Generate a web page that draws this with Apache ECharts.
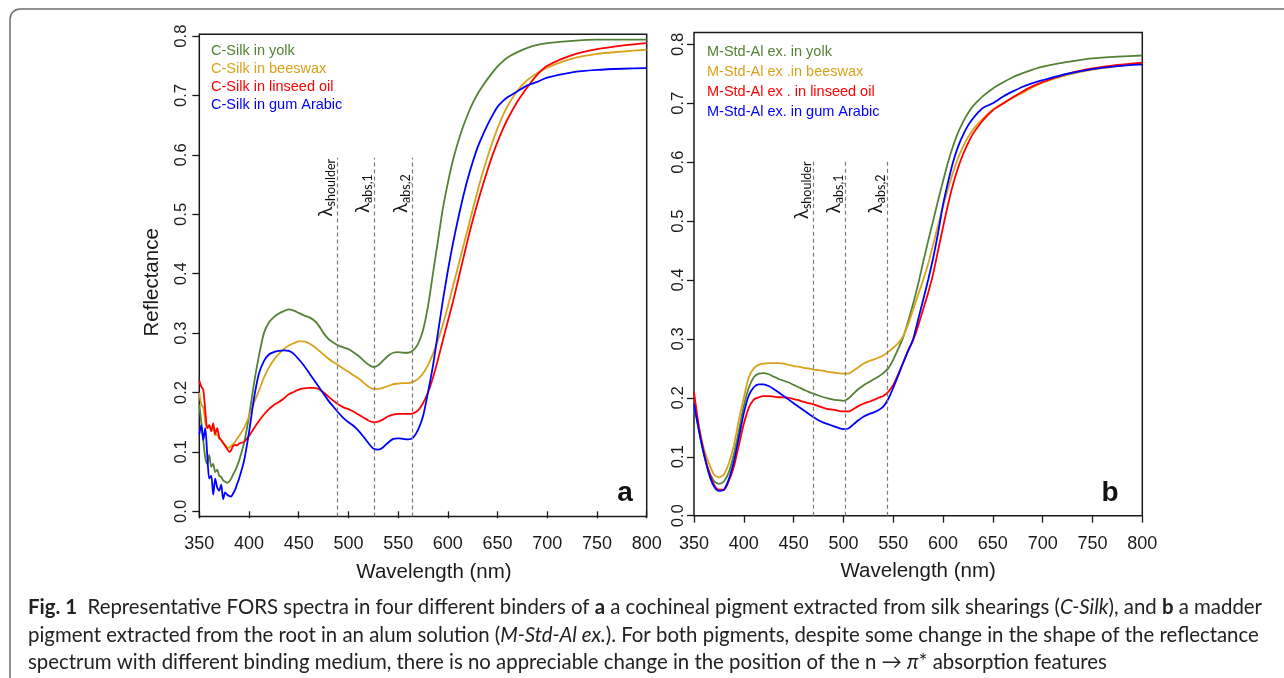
<!DOCTYPE html>
<html>
<head>
<meta charset="utf-8">
<script src="https://cdn.jsdelivr.net/npm/echarts@6/dist/echarts.min.js"></script>
<style>
  html, body { margin: 0; padding: 0; background: #ffffff; }
  #chart { width: 1284px; height: 678px; }
</style>
</head>
<body>
<div id="chart"></div>
<script>
// ---- Panel a: cochineal (C-Silk) in four binders ----
const wavelengthA = [350,352,354,356,358,360,362,364,366,368,370,372,374,376,378,380,382,384,386,388,390,
  395,400,405,410,415,420,425,430,435,440,
  445,450,455,460,465,470,475,480,485,490,
  495,500,505,510,515,520,525,530,535,540,
  545,550,555,560,565,570,575,580,585,590,
  595,600,605,610,615,620,625,630,635,640,
  645,650,655,660,
  670,680,690,700,725,750,775,800];

const silkYolk = [0.18,0.15,0.12,0.09,0.08,0.095,0.075,0.08,0.066,0.07,0.06,0.058,0.052,0.05,0.048,0.05,0.055,0.062,0.068,0.076,0.085,
  0.115,0.16,0.215,0.262,0.30,0.318,0.327,0.333,0.337,0.340,
  0.338,0.334,0.33,0.327,0.322,0.313,0.30,0.29,0.284,0.279,
  0.276,0.273,0.268,0.262,0.254,0.247,0.243,0.246,0.254,0.262,
  0.267,0.268,0.267,0.267,0.271,0.282,0.305,0.345,0.40,0.455,
  0.51,0.553,0.59,0.62,0.646,0.668,0.687,0.703,0.716,0.728,
  0.739,0.749,0.757,0.764,
  0.773,0.78,0.785,0.788,0.792,0.794,0.794,0.794];

const silkBeeswax = [0.20,0.18,0.175,0.15,0.14,0.145,0.135,0.14,0.128,0.13,0.122,0.12,0.115,0.112,0.108,0.107,0.11,0.113,0.117,0.122,0.127,
  0.14,0.16,0.183,0.203,0.225,0.242,0.255,0.265,0.273,0.279,
  0.283,0.286,0.286,0.283,0.278,0.271,0.264,0.257,0.251,0.246,
  0.24,0.235,0.229,0.224,0.217,0.21,0.206,0.206,0.208,0.211,
  0.214,0.215,0.216,0.216,0.218,0.223,0.232,0.246,0.265,0.288,
  0.315,0.345,0.378,0.41,0.443,0.475,0.508,0.54,0.57,0.597,
  0.622,0.645,0.665,0.682,
  0.708,0.726,0.738,0.747,0.762,0.77,0.774,0.777];

const silkLinseed = [0.22,0.21,0.205,0.17,0.14,0.145,0.135,0.148,0.13,0.14,0.125,0.12,0.115,0.11,0.105,0.1,0.103,0.11,0.112,0.111,0.114,
  0.117,0.127,0.14,0.152,0.163,0.172,0.179,0.184,0.19,0.197,
  0.201,0.205,0.207,0.208,0.208,0.206,0.2,0.193,0.186,0.18,
  0.175,0.172,0.168,0.163,0.158,0.153,0.15,0.151,0.155,0.16,
  0.163,0.164,0.164,0.164,0.165,0.17,0.182,0.2,0.225,0.255,
  0.288,0.32,0.352,0.387,0.422,0.457,0.49,0.52,0.548,0.575,
  0.6,0.622,0.642,0.66,
  0.69,0.714,0.735,0.75,0.768,0.778,0.784,0.788];

const silkGum = [0.13,0.145,0.12,0.14,0.095,0.055,0.06,0.028,0.055,0.04,0.035,0.045,0.02,0.032,0.028,0.026,0.025,0.03,0.036,0.046,0.055,
  0.085,0.133,0.19,0.232,0.253,0.264,0.268,0.27,0.271,0.27,
  0.265,0.256,0.246,0.234,0.222,0.21,0.198,0.186,0.176,0.166,
  0.157,0.15,0.144,0.136,0.126,0.115,0.106,0.104,0.108,0.116,
  0.122,0.123,0.122,0.121,0.124,0.137,0.16,0.2,0.245,0.3,
  0.355,0.405,0.45,0.49,0.527,0.56,0.588,0.613,0.633,0.651,
  0.667,0.681,0.69,0.697,
  0.707,0.717,0.723,0.73,0.739,0.743,0.745,0.746];

// ---- Panel b: madder (M-Std-Al ex.) in four binders ----
const wavelengthB = [350,355,360,365,370,375,380,385,390,395,
  400,405,410,415,420,425,430,435,440,445,
  450,455,460,465,470,475,480,485,490,495,
  500,505,510,515,520,525,530,535,540,545,
  550,555,560,565,570,575,580,585,590,595,
  600,605,610,615,620,625,630,635,640,
  650,660,670,680,690,700,725,750,775,800];

const madderYolk = [0.189,0.144,0.104,0.076,0.059,0.054,0.058,0.074,0.104,0.144,
  0.186,0.217,0.235,0.241,0.242,0.24,0.236,0.232,0.229,0.226,
  0.222,0.218,0.214,0.21,0.207,0.204,0.201,0.199,0.197,0.196,
  0.195,0.199,0.207,0.215,0.221,0.226,0.231,0.236,0.242,0.25,
  0.265,0.283,0.303,0.33,0.36,0.393,0.43,0.466,0.5,0.535,
  0.568,0.6,0.627,0.65,0.668,0.683,0.695,0.704,0.712,
  0.725,0.735,0.744,0.751,0.757,0.762,0.77,0.776,0.779,0.781];

const madderBeeswax = [0.19,0.15,0.113,0.089,0.07,0.065,0.07,0.089,0.119,0.162,
  0.2,0.235,0.25,0.256,0.258,0.259,0.259,0.259,0.258,0.256,
  0.254,0.253,0.251,0.25,0.248,0.247,0.246,0.244,0.243,0.242,
  0.241,0.241,0.246,0.252,0.258,0.262,0.265,0.268,0.272,0.278,
  0.285,0.293,0.305,0.325,0.35,0.375,0.4,0.427,0.46,0.493,
  0.525,0.555,0.583,0.607,0.626,0.642,0.655,0.665,0.674,
  0.689,0.7,0.709,0.718,0.727,0.735,0.748,0.757,0.763,0.768];

const madderLinseed = [0.21,0.15,0.107,0.074,0.053,0.044,0.044,0.059,0.083,0.119,
  0.156,0.183,0.197,0.201,0.203,0.203,0.202,0.201,0.201,0.2,
  0.198,0.196,0.193,0.191,0.189,0.186,0.183,0.181,0.18,0.178,
  0.177,0.177,0.181,0.186,0.19,0.193,0.196,0.2,0.203,0.21,
  0.222,0.24,0.26,0.28,0.298,0.322,0.35,0.378,0.41,0.45,
  0.49,0.528,0.562,0.59,0.613,0.632,0.648,0.66,0.671,
  0.688,0.699,0.71,0.72,0.729,0.736,0.75,0.759,0.765,0.769];

const madderGum = [0.19,0.144,0.104,0.071,0.05,0.042,0.044,0.062,0.092,0.132,
  0.174,0.204,0.218,0.223,0.223,0.22,0.215,0.209,0.203,0.197,
  0.191,0.185,0.179,0.173,0.167,0.162,0.158,0.155,0.152,0.149,
  0.147,0.148,0.155,0.162,0.168,0.172,0.175,0.179,0.185,0.198,
  0.217,0.238,0.26,0.28,0.30,0.333,0.366,0.4,0.437,0.48,
  0.528,0.566,0.6,0.626,0.646,0.662,0.674,0.684,0.692,
  0.70,0.711,0.72,0.728,0.734,0.739,0.75,0.758,0.763,0.766];

const namesA = ['C-Silk in yolk', 'C-Silk in beeswax', 'C-Silk in linseed oil', 'C-Silk in gum Arabic'];
const namesB = ['M-Std-Al ex. in yolk', 'M-Std-Al ex .in beeswax', 'M-Std-Al ex . in linseed oil', 'M-Std-Al ex. in gum Arabic'];

// absorption feature positions (nm): shoulder, abs,1, abs,2
const featuresA = [489, 526, 564];
const featuresB = [470, 502, 544];
const featureSubs = ['shoulder', 'abs,1', 'abs,2'];

const yTickValues = [0, 0.1, 0.2, 0.3, 0.4, 0.5, 0.6, 0.7, 0.8];

// ---- styling ----
const colors = ['#548235', '#D9A21B', '#FF0000', '#0000FF'];
const axisFont = 'Liberation Sans, Arial, sans-serif';
const ink = '#1a1a1a';

const rangeA = [-0.0085, 0.803];
const rangeB = [0, 0.82];

function pairs(xs, ys) { return xs.map((x, i) => [x, ys[i]]); }

function curveSeries(name, xs, ys, color, idx) {
  return {
    name, type: 'line', xAxisIndex: idx, yAxisIndex: idx,
    data: pairs(xs, ys), showSymbol: false, symbol: 'none',
    smooth: 0.25, lineStyle: { color, width: 1.8 }, itemStyle: { color },
    animation: false, z: 3
  };
}

function featureSeries(idx, features, bottom, top, labelBase) {
  return {
    name: 'features-' + idx, type: 'line', xAxisIndex: idx, yAxisIndex: idx,
    data: [], animation: false, silent: true, z: 2,
    markLine: {
      silent: true, symbol: ['none', 'none'], animation: false,
      label: { show: false },
      lineStyle: { type: [4, 3], color: '#7a7a7a', width: 1.2 },
      data: features.map(f => [{ coord: [f, bottom] }, { coord: [f, top] }])
    },
    markPoint: {
      silent: true, symbol: 'circle', symbolSize: 0, animation: false,
      data: features.map((f, i) => ({
        coord: [f, labelBase[i]],
        label: {
          show: true, position: 'inside', rotate: 90, align: 'left', verticalAlign: 'bottom',
          formatter: '{l|λ}{s|' + featureSubs[i] + '}',
          rich: {
            l: { fontSize: 19, lineHeight: 23, fontFamily: 'Lato, sans-serif', color: '#111', verticalAlign: 'middle' },
            s: { fontSize: 12.5, lineHeight: 10, fontFamily: 'Lato, sans-serif', color: '#111', verticalAlign: 'bottom' }
          }
        }
      }))
    }
  };
}

function xAxisFor(idx, gap) {
  return {
    type: 'value', gridIndex: idx, min: 350, max: 800, interval: 50,
    axisLine: { show: false },
    axisTick: { show: true, length: 7, lineStyle: { color: ink, width: 1.3 } },
    axisLabel: { fontSize: 18, color: ink, fontFamily: axisFont, margin: 19 },
    splitLine: { show: false },
    name: 'Wavelength (nm)', nameLocation: 'middle', nameGap: gap,
    nameTextStyle: { fontSize: 20.5, color: ink, fontFamily: axisFont, padding: idx === 0 ? [0, 0, 0, 22] : 0 }
  };
}

function yAxisFor(idx, range, margin) {
  const ax = {
    type: 'value', gridIndex: idx, min: range[0], max: range[1],
    axisLine: { show: false },
    axisTick: { show: true, length: 7, customValues: yTickValues, lineStyle: { color: ink, width: 1.3 } },
    axisLabel: { fontSize: 16.7, color: ink, fontFamily: axisFont, margin, rotate: 90,
      customValues: yTickValues, formatter: v => v.toFixed(1) },
    splitLine: { show: false }
  };
  if (idx === 0) {
    Object.assign(ax, {
      name: 'Reflectance', nameLocation: 'middle', nameGap: 36, nameRotate: 90,
      nameTextStyle: { fontSize: 20.5, color: ink, fontFamily: axisFont, padding: [0, 14, 0, 0] }
    });
  }
  return ax;
}

function legendFor(names, left, top, gap) {
  return {
    orient: 'vertical', left, top, itemWidth: 0, itemHeight: 0, itemGap: gap,
    selectedMode: false, padding: 0,
    data: names.map((n, i) => ({ name: n, textStyle: { color: colors[i] } })),
    textStyle: { fontSize: 14.5, lineHeight: 16, fontFamily: axisFont }
  };
}

const chart = echarts.init(document.getElementById('chart'), null, { renderer: 'canvas' });

const seriesA = [silkYolk, silkBeeswax, silkLinseed, silkGum];
const seriesB = [madderYolk, madderBeeswax, madderLinseed, madderGum];

const captionText =
  '{fig|Fig. 1}  Representative FORS spectra in four different binders of {b|a} a cochineal pigment extracted from silk shearings ({i|C-Silk}), and {b|b} a madder\n' +
  'pigment extracted from the root in an alum solution ({i|M-Std-Al ex.}). For both pigments, despite some change in the shape of the reflectance\n' +
  'spectrum with different binding medium, there is no appreciable change in the position of the n \u2192 {i|\u03c0}* absorption features';

const captionFont = 'Lato, "Open Sans", sans-serif';
const captionSize = 20.4;

chart.setOption({
  backgroundColor: '#ffffff',
  animation: false,
  grid: [
    { left: 199.3, top: 34.3, width: 447.4, height: 482.1, show: true, borderColor: ink, borderWidth: 1.5,
      backgroundColor: 'transparent', containLabel: false, outerBoundsMode: 'none' },
    { left: 694, top: 32.5, width: 448.3, height: 483.2, show: true, borderColor: ink, borderWidth: 1.5,
      backgroundColor: 'transparent', containLabel: false, outerBoundsMode: 'none' }
  ],
  xAxis: [xAxisFor(0, 45), xAxisFor(1, 45)],
  yAxis: [yAxisFor(0, rangeA, 9), yAxisFor(1, rangeB, 7.5)],
  legend: [legendFor(namesA, 205, 43.4, 2), legendFor(namesB, 701, 44, 4)],
  series: [
    ...seriesA.map((ys, i) => curveSeries(namesA[i], wavelengthA, ys, colors[i], 0)),
    ...seriesB.map((ys, i) => curveSeries(namesB[i], wavelengthB, ys, colors[i], 1)),
    featureSeries(0, featuresA, rangeA[0], 0.595, [0.496, 0.502, 0.502]),
    featureSeries(1, featuresB, rangeB[0], 0.605, [0.503, 0.513, 0.513])
  ],
  graphic: [
    { type: 'rect', silent: true, shape: { x: 10, y: 9, width: 1320, height: 720, r: 10 },
      style: { fill: 'none', stroke: '#6e6e6e', lineWidth: 1.5 } },
    { type: 'text', silent: true, x: 625, y: 493,
      style: { text: 'a', fontSize: 28, fontWeight: 'bold', fontFamily: axisFont, fill: '#111', align: 'center', verticalAlign: 'middle' } },
    { type: 'text', silent: true, x: 1110, y: 493,
      style: { text: 'b', fontSize: 28, fontWeight: 'bold', fontFamily: axisFont, fill: '#111', align: 'center', verticalAlign: 'middle' } },
    { type: 'text', silent: true, x: 28, y: 594,
      style: {
        text: captionText, fontSize: captionSize, lineHeight: 27.5, fontFamily: captionFont, fill: '#222',
        rich: {
          fig: { fontSize: captionSize, fontWeight: 'bold', fontFamily: captionFont, fill: '#222' },
          b: { fontSize: captionSize, fontWeight: 'bold', fontFamily: captionFont, fill: '#222' },
          i: { fontSize: captionSize, fontStyle: 'italic', fontFamily: captionFont, fill: '#222' }
        }
      } }
  ]
});
</script>
</body>
</html>
